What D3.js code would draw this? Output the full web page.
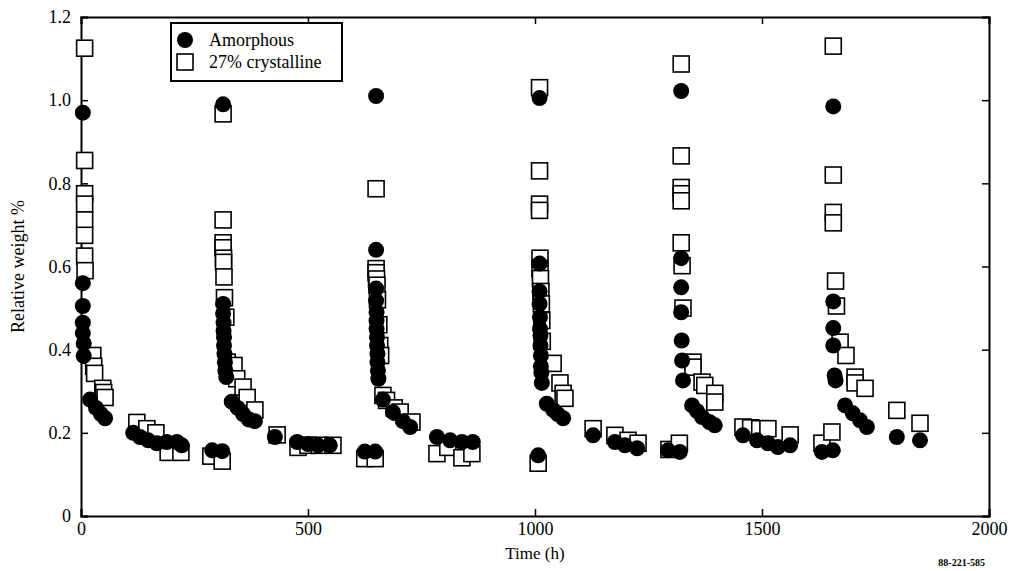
<!DOCTYPE html>
<html>
<head>
<meta charset="utf-8">
<script src="https://cdn.jsdelivr.net/npm/d3@7"></script>
<style>
  body { margin: 0; background: #fff; }
  text { font-family: "Liberation Serif", "DejaVu Serif", serif; fill: #000; }
</style>
</head>
<body>
<div id="container"></div>
<script>
/* DATA */
// Amorphous (filled circles): time (h), relative weight %
const amorphousTime = [
  4, 4, 4, 4, 4, 6, 6, 20, 33, 44, 53,
  115, 130, 148, 167, 189, 211, 222,
  289, 311, 313, 313, 313, 314, 314, 315, 315, 316, 317, 318, 320,
  332, 345, 357, 370, 383,
  427, 476, 500, 522, 548,
  625, 648, 650, 650, 650, 650, 651, 651, 651, 652, 652, 653, 653, 654, 655,
  665, 687, 709, 725,
  784, 813, 839, 863,
  1007, 1010, 1010, 1010, 1010, 1011, 1011, 1012, 1012, 1013, 1013, 1014, 1015,
  1026, 1040, 1050, 1062,
  1128, 1176, 1198, 1225,
  1293, 1319, 1322, 1322, 1322, 1322, 1323, 1324, 1326,
  1346, 1357, 1368, 1384, 1396,
  1458, 1489, 1513, 1535, 1562,
  1632, 1656, 1657, 1657, 1657, 1657, 1660, 1662,
  1683, 1700, 1716, 1731,
  1797, 1848
];
const amorphousWeight = [
  0.97, 0.56, 0.505, 0.465, 0.44, 0.415, 0.385, 0.28, 0.26, 0.245, 0.235,
  0.20, 0.19, 0.182, 0.175, 0.178, 0.178, 0.17,
  0.158, 0.156, 0.99, 0.51, 0.487, 0.465, 0.445, 0.43, 0.41, 0.39, 0.37, 0.35, 0.334,
  0.275, 0.26, 0.245, 0.232, 0.228,
  0.19, 0.178, 0.173, 0.17, 0.17,
  0.155, 0.155, 1.01, 0.64, 0.547, 0.518, 0.49, 0.47, 0.45, 0.43, 0.41, 0.39, 0.37, 0.35, 0.33,
  0.28, 0.25, 0.228, 0.214,
  0.19, 0.182, 0.178, 0.178,
  0.146, 1.005, 0.607, 0.54, 0.51, 0.478, 0.45, 0.434, 0.41, 0.386, 0.36, 0.345, 0.32,
  0.27, 0.255, 0.245, 0.235,
  0.194, 0.178, 0.17, 0.163,
  0.158, 0.154, 1.022, 0.62, 0.55, 0.49, 0.422, 0.374, 0.326,
  0.266, 0.252, 0.238, 0.226, 0.218,
  0.194, 0.182, 0.175, 0.166, 0.17,
  0.154, 0.158, 0.985, 0.516, 0.452, 0.41, 0.338, 0.326,
  0.266, 0.247, 0.23, 0.214,
  0.19, 0.182
];
// 27% crystalline (open squares)
const crystallineTime = [
  8, 8, 8, 8, 8, 8, 8, 9,
  26, 28, 30, 48, 50, 53,
  123, 145, 165, 192, 220,
  286, 311, 313, 313, 313, 313, 314, 314, 315, 316, 319, 322,
  337, 343, 357, 366, 383,
  432, 478, 500, 525, 555,
  625, 648, 650, 650, 650, 651, 652, 653, 656, 658, 660,
  665, 673, 690, 703, 729,
  784, 808, 839, 861,
  1007, 1010, 1010, 1010, 1010, 1011, 1011, 1012, 1013, 1014, 1015, 1016,
  1040, 1055, 1062, 1066,
  1128, 1176, 1205, 1227,
  1295, 1318, 1322, 1322, 1322, 1322, 1322, 1322, 1324, 1326,
  1348, 1348, 1368, 1374, 1396, 1396,
  1458, 1475, 1495, 1513, 1562,
  1632, 1654, 1657, 1657, 1657, 1657, 1662, 1664,
  1672, 1685, 1705, 1705, 1727,
  1797, 1848
];
const crystallineWeight = [
  1.125, 0.855, 0.775, 0.75, 0.712, 0.675, 0.625, 0.59,
  0.386, 0.36, 0.343, 0.307, 0.297, 0.285,
  0.225, 0.21, 0.2, 0.153, 0.153,
  0.144, 0.132, 0.967, 0.712, 0.657, 0.645, 0.62, 0.61, 0.575, 0.525, 0.478, 0.37,
  0.362, 0.33, 0.31, 0.285, 0.255,
  0.195, 0.165, 0.17, 0.17, 0.17,
  0.138, 0.138, 0.787, 0.595, 0.585, 0.57, 0.555, 0.52, 0.46, 0.41, 0.386,
  0.29, 0.278, 0.26, 0.25, 0.226,
  0.15, 0.165, 0.14, 0.15,
  0.127, 1.03, 0.83, 0.75, 0.735, 0.62, 0.595, 0.571, 0.54, 0.51, 0.47, 0.42,
  0.367, 0.32, 0.295, 0.283,
  0.21, 0.194, 0.182, 0.175,
  0.16, 0.175, 1.087, 0.866, 0.79, 0.775, 0.758, 0.657, 0.602, 0.50,
  0.37, 0.358, 0.322, 0.314, 0.295, 0.274,
  0.214, 0.212, 0.21, 0.21, 0.195,
  0.175, 0.202, 1.13, 0.82, 0.73, 0.705, 0.565, 0.505,
  0.418, 0.386, 0.334, 0.32, 0.307,
  0.254, 0.223
];
const xTicks = [0, 500, 1000, 1500, 2000];
const yTicks = [0, 0.2, 0.4, 0.6, 0.8, 1.0, 1.2];
const yTickLabels = ["0", "0.2", "0.4", "0.6", "0.8", "1.0", "1.2"];
const seriesNames = ["Amorphous", "27% crystalline"];

/* CONSTANTS */
const width = 1010, height = 571;
const margin = {top: 17, right: 21, bottom: 55, left: 81};

const svg = d3.select("#container").append("svg")
  .attr("width", width)
  .attr("height", height);

// SCALES
const xScale = d3.scaleLinear().domain([0, 2000]).range([margin.left, width - margin.right]);
const yScale = d3.scaleLinear().domain([0, 1.2]).range([height - margin.bottom, margin.top]);

// AXES (ticks pointing inward on all four sides)
const tickLen = 7;
svg.append("g")
  .attr("transform", `translate(0,${height - margin.bottom})`)
  .call(d3.axisBottom(xScale).tickValues(xTicks).tickSize(-tickLen).tickPadding(6).tickFormat(d3.format("d")))
  .call(g => g.selectAll("text").attr("font-size", 18).attr("font-family", "Liberation Serif"));
svg.append("g")
  .attr("transform", `translate(0,${margin.top})`)
  .call(d3.axisTop(xScale).tickValues(xTicks).tickSize(-tickLen).tickFormat(""));
svg.append("g")
  .attr("transform", `translate(${margin.left},0)`)
  .call(d3.axisLeft(yScale).tickValues(yTicks).tickSize(-tickLen).tickPadding(10)
    .tickFormat((d, i) => yTickLabels[i]))
  .call(g => g.selectAll("text").attr("font-size", 18).attr("font-family", "Liberation Serif"));
svg.append("g")
  .attr("transform", `translate(${width - margin.right},0)`)
  .call(d3.axisRight(yScale).tickValues(yTicks).tickSize(-tickLen).tickFormat(""));

svg.selectAll(".domain").attr("stroke", "#000").attr("stroke-width", 2);
svg.selectAll(".tick line").attr("stroke", "#000").attr("stroke-width", 1.5);
svg.selectAll(".tick text").attr("fill", "#000");

// AXIS TITLES
svg.append("text")
  .attr("x", (margin.left + width - margin.right) / 2)
  .attr("y", 559)
  .attr("text-anchor", "middle")
  .attr("font-size", 17)
  .text("Time (h)");
svg.append("text")
  .attr("transform", `translate(24,${(margin.top + height - margin.bottom) / 2}) rotate(-90)`)
  .attr("text-anchor", "middle")
  .attr("font-size", 18)
  .text("Relative weight %");
svg.append("text")
  .attr("x", 985).attr("y", 566)
  .attr("text-anchor", "end")
  .attr("font-size", 10)
  .attr("font-weight", "bold")
  .text("88-221-585");

// POINTS
const sq = 16, r = 8;
const crystalline = crystallineTime.map((t, i) => ({t, w: crystallineWeight[i]}));
const amorphous = amorphousTime.map((t, i) => ({t, w: amorphousWeight[i]}));

svg.append("g").selectAll("rect")
  .data(crystalline)
  .join("rect")
  .attr("x", d => xScale(d.t) - sq / 2)
  .attr("y", d => yScale(d.w) - sq / 2)
  .attr("width", sq).attr("height", sq)
  .attr("fill", "#fff").attr("stroke", "#000").attr("stroke-width", 1.6);

svg.append("g").selectAll("circle")
  .data(amorphous)
  .join("circle")
  .attr("cx", d => xScale(d.t))
  .attr("cy", d => yScale(d.w))
  .attr("r", r)
  .attr("fill", "#000");

// LEGEND
const legend = svg.append("g").attr("transform", "translate(171,23)");
legend.append("rect")
  .attr("width", 171).attr("height", 58)
  .attr("fill", "#fff").attr("stroke", "#000").attr("stroke-width", 2);
legend.append("circle").attr("cx", 14).attr("cy", 17).attr("r", 8).attr("fill", "#000");
legend.append("rect").attr("x", 6).attr("y", 31).attr("width", 16).attr("height", 16)
  .attr("fill", "#fff").attr("stroke", "#000").attr("stroke-width", 1.6);
legend.selectAll("text.lbl")
  .data(seriesNames)
  .join("text")
  .attr("class", "lbl")
  .attr("x", 38)
  .attr("y", (d, i) => 23 + i * 22)
  .attr("font-size", 18)
  .text(d => d);
</script>
</body>
</html>
